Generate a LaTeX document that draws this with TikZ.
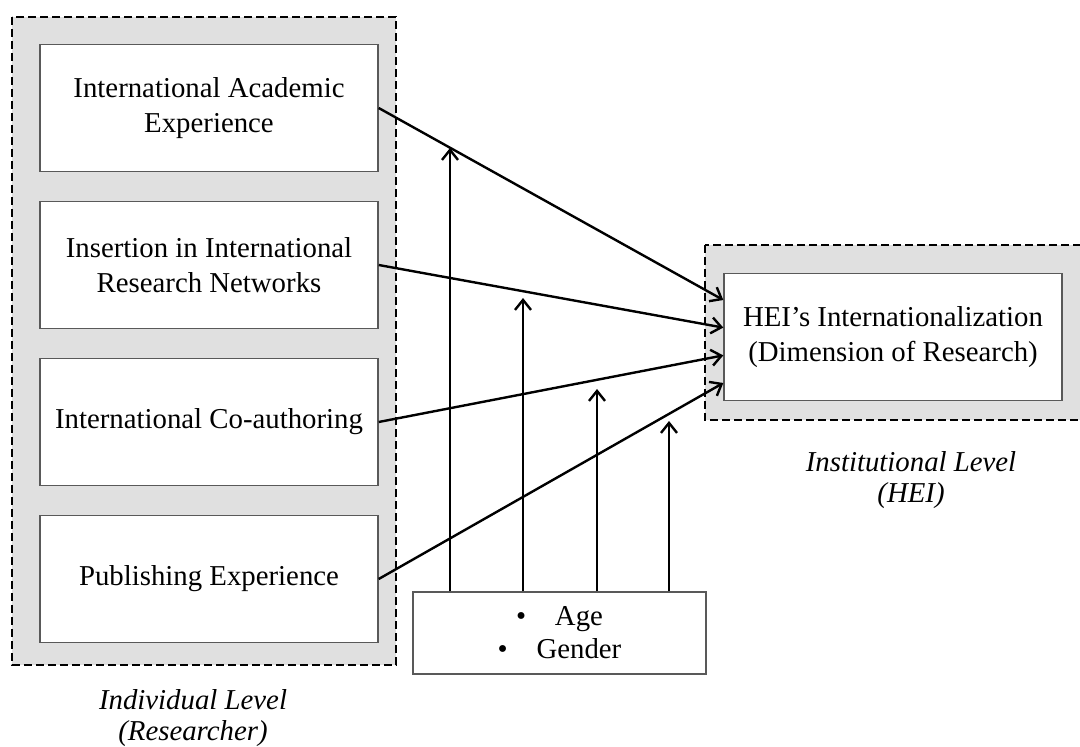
\documentclass[tikz,border=0pt]{standalone}
\usepackage{fontspec}
\setmainfont{Liberation Serif}
\usetikzlibrary{positioning,arrows.meta}
\tikzset{
  factor/.style={draw=black!65,fill=white,line width=0.7pt,minimum width=169pt,minimum height=63.5pt,inner sep=0pt,align=center},
  control/.style={draw=black!65,fill=white,line width=0.7pt,minimum width=146.5pt,minimum height=41pt,inner sep=0pt,align=center},
  level/.style={draw=black,fill=black!12,line width=1pt,dash pattern=on 4pt off 2pt},
  effect/.style={draw=black,line width=1.2pt,-{Straight Barb[length=5pt,width=8pt]}},
  caption/.style={font=\fontsize{14.4}{15.5}\selectfont\itshape,align=center}
}

\begin{document}
\begin{tikzpicture}[x=0.5pt,y=-0.5pt,node distance=14.3pt,every node/.style={font=\fontsize{14.4}{17.5}\selectfont}]
  \useasboundingbox (0,0) rectangle (1080,747);
  \draw[level] (12,17) rectangle (396,665);
  \draw[level] (705,245) rectangle (1090,420);
  \node[factor] (exp) at (209,108) {International Academic\\Experience};
  \node[factor,below=of exp] (net) {Insertion in International\\Research Networks};
  \node[factor,below=of net] (coauth) {International Co-authoring};
  \node[factor,below=of coauth] (pub) {Publishing Experience};
  \node[factor] (hei) at (893,337) {HEI's Internationalization\\(Dimension of Research)};
  \node[control] (ctrl) at (559.5,633) {\textbullet\quad Age\\[-1pt]\textbullet\quad Gender};
  \node[caption] (indiv) at (193,718) {Individual Level\\(Researcher)};
  \node[caption] (inst) at (911,480) {Institutional Level\\(HEI)};
  \coordinate (m1) at (450,148);
  \coordinate (m2) at (523,298);
  \coordinate (m3) at (597,389);
  \coordinate (m4) at (669,421);
  \draw[effect] (exp.east) -- ([yshift=18.5pt]hei.west);
  \draw[effect] (net.east) -- ([yshift=4.7pt]hei.west);
  \draw[effect] (coauth.east) -- ([yshift=-9.2pt]hei.west);
  \draw[effect] (pub.east) -- ([yshift=-23pt]hei.west);
  \draw[effect] (ctrl.north -| m1) -- (m1);
  \draw[effect] (ctrl.north -| m2) -- (m2);
  \draw[effect] (ctrl.north -| m3) -- (m3);
  \draw[effect] (ctrl.north -| m4) -- (m4);
\end{tikzpicture}
\end{document}
